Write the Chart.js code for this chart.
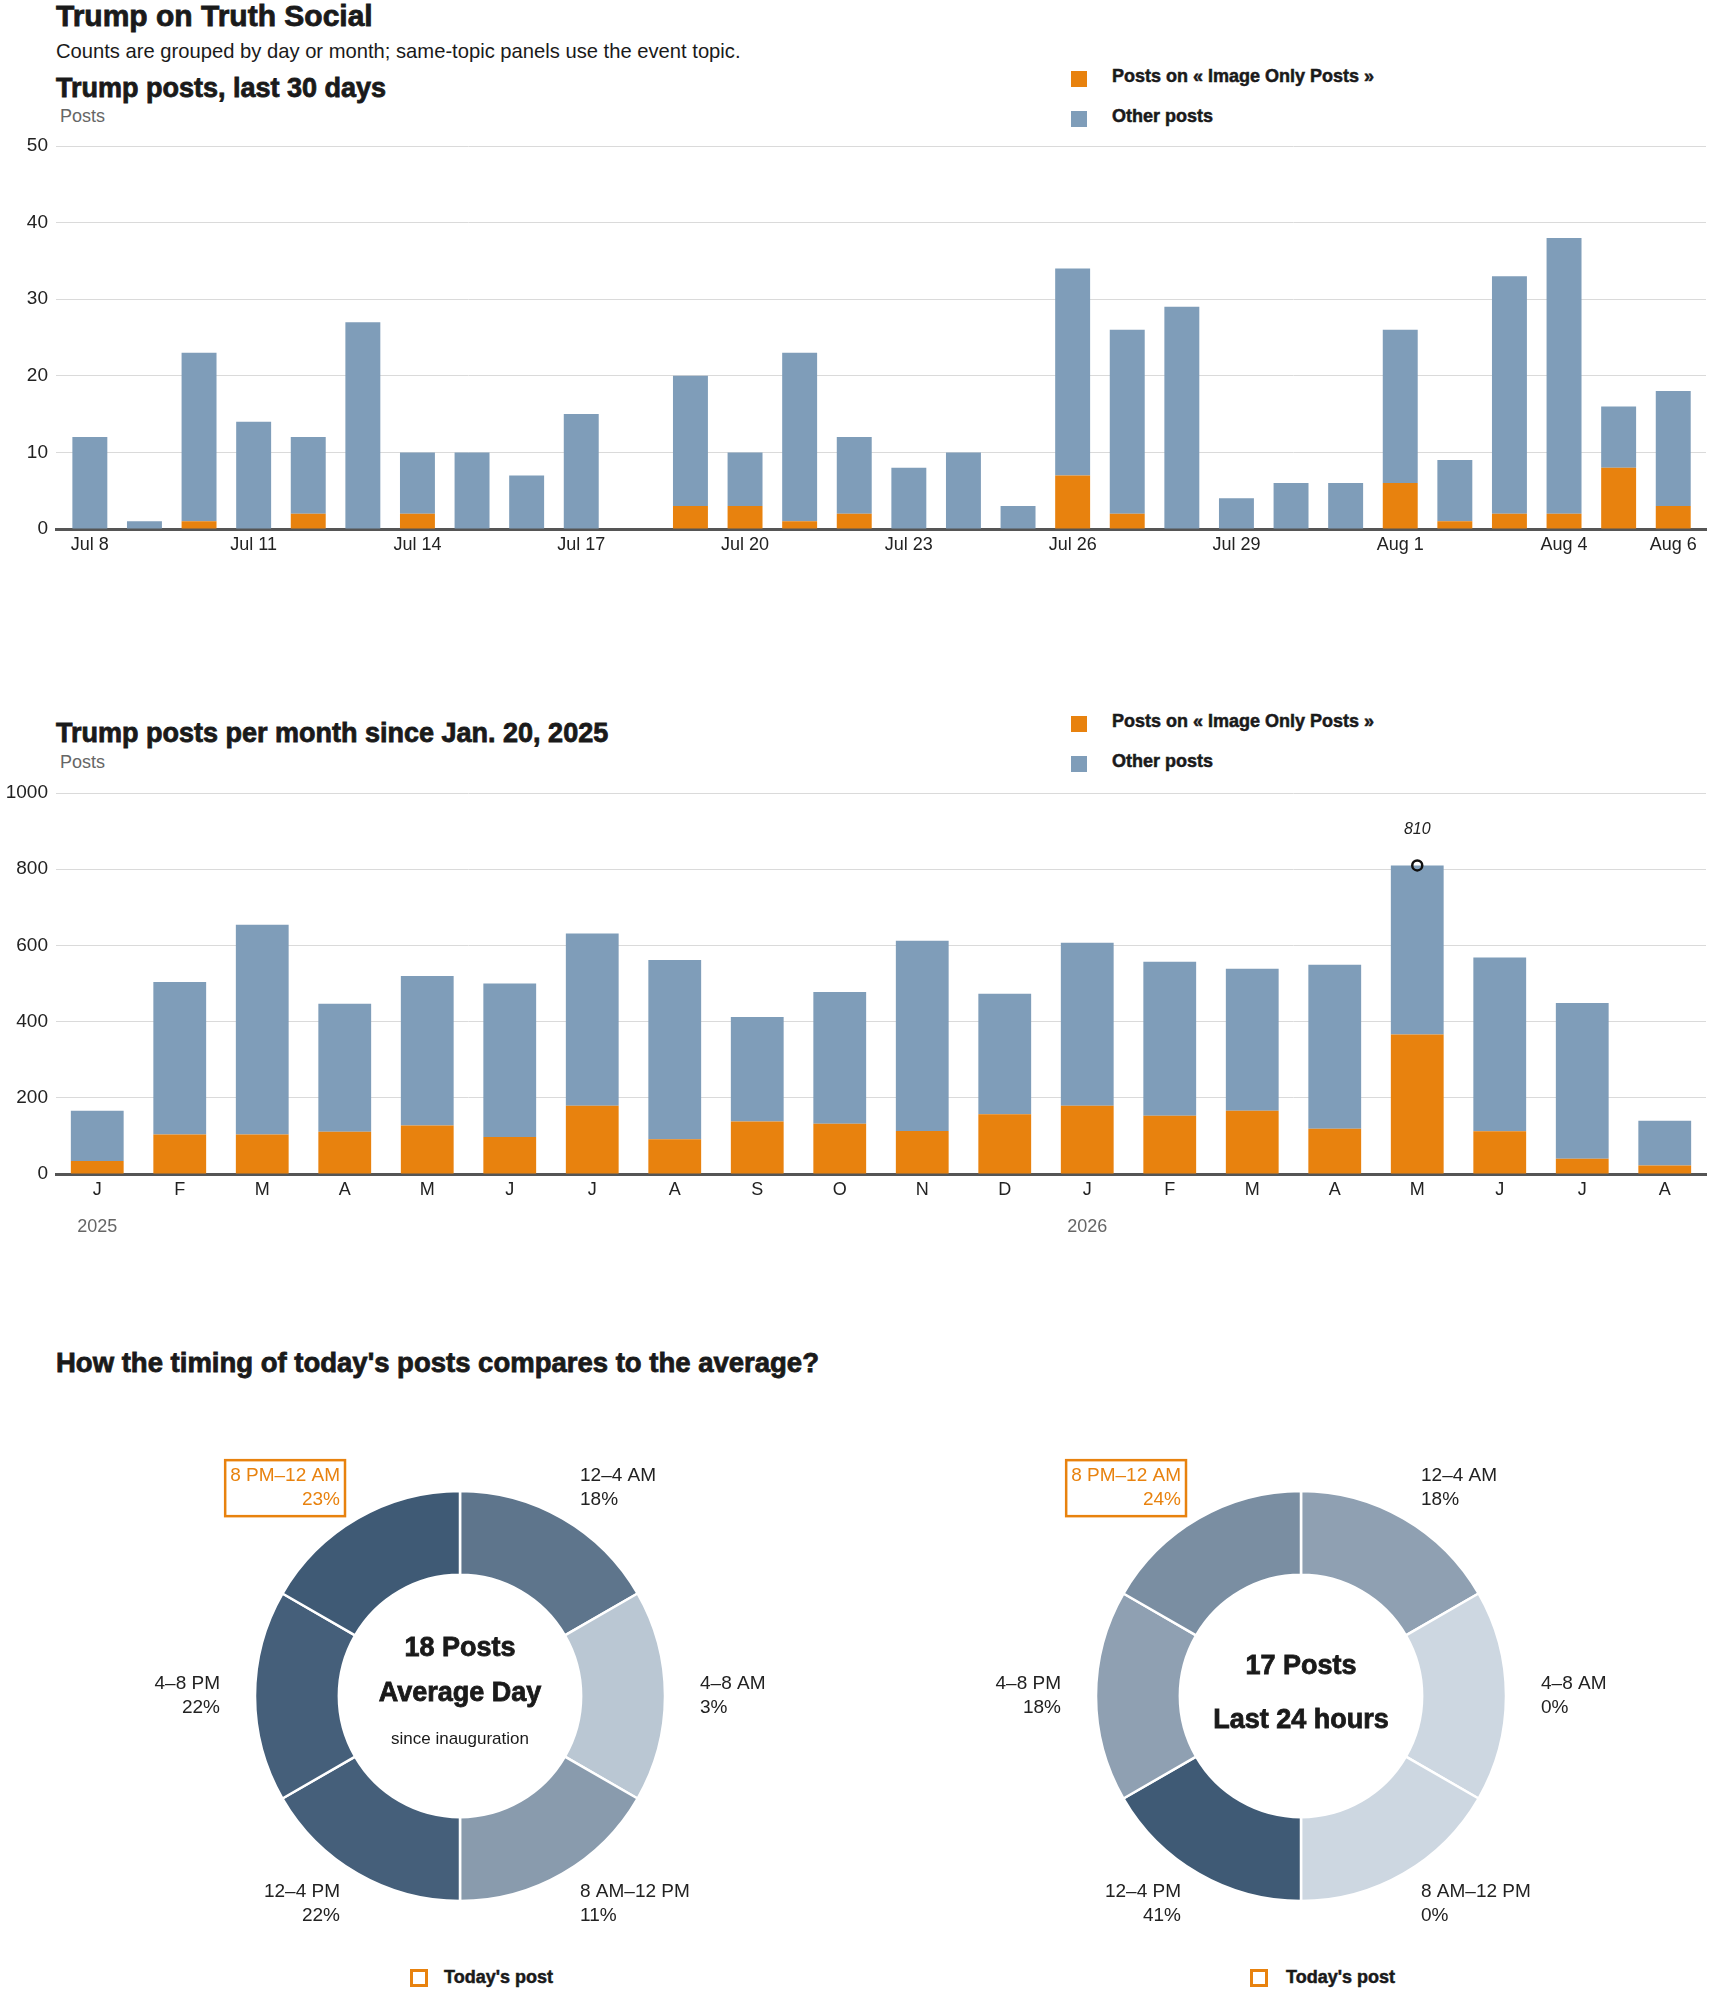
<!DOCTYPE html>
<html>
<head>
<meta charset="utf-8">
<script src="https://cdn.jsdelivr.net/npm/chart.js@4.4.1/dist/chart.umd.min.js"></script>
<style>
  body { margin: 0; background: #fff; }
  #page { position: relative; width: 1710px; height: 1993px; overflow: hidden;
          font-family: 'Liberation Sans', Arial, sans-serif; color: #1a1a1a; }
  .t { position: absolute; white-space: nowrap; line-height: 1; }
  .b { font-weight: 700; -webkit-text-stroke: 0.5px #1a1a1a; }
  .h { font-weight: 700; -webkit-text-stroke: 0.8px #1a1a1a; }
  .sq { position: absolute; width: 16px; height: 16px; }
  .osq { position: absolute; width: 18px; height: 18px; box-sizing: border-box; border: 3px solid #e8820e; }
  canvas { position: absolute; }
</style>
</head>
<body>
<div id="page">
  <div class="t h" style="left:56px;top:1px;font-size:30px;">Trump on Truth Social</div>
  <div class="t" style="left:56px;top:41px;font-size:20.2px;">Counts are grouped by day or month; same-topic panels use the event topic.</div>

  <div class="t h" style="left:56px;top:75px;font-size:27px;">Trump posts, last 30 days</div>
  <div class="t" style="left:60px;top:107px;font-size:18px;color:#666;">Posts</div>
  <div class="sq" style="left:1071px;top:71px;background:#e8820e;"></div>
  <div class="t b" style="left:1112px;top:67px;font-size:18px;">Posts on « Image Only Posts »</div>
  <div class="sq" style="left:1071px;top:111px;background:#7f9db9;"></div>
  <div class="t b" style="left:1112px;top:107px;font-size:18px;">Other posts</div>
  <canvas id="daily" width="1710" height="439" style="left:0;top:130px;"></canvas>

  <div class="t h" style="left:56px;top:720px;font-size:27px;">Trump posts per month since Jan. 20, 2025</div>
  <div class="t" style="left:60px;top:753px;font-size:18px;color:#666;">Posts</div>
  <div class="sq" style="left:1071px;top:716px;background:#e8820e;"></div>
  <div class="t b" style="left:1112px;top:712px;font-size:18px;">Posts on « Image Only Posts »</div>
  <div class="sq" style="left:1071px;top:756px;background:#7f9db9;"></div>
  <div class="t b" style="left:1112px;top:752px;font-size:18px;">Other posts</div>
  <canvas id="monthly" width="1710" height="469" style="left:0;top:780px;"></canvas>

  <div class="t h" style="left:56px;top:1349px;font-size:27.5px;">How the timing of today's posts compares to the average?</div>

  <canvas id="donutAvg" width="760" height="520" style="left:80px;top:1436px;"></canvas>
  <div class="t h" style="left:310px;width:300px;text-align:center;top:1634px;font-size:27px;">18 Posts</div>
  <div class="t h" style="left:310px;width:300px;text-align:center;top:1679px;font-size:27px;">Average Day</div>
  <div class="t" style="left:310px;width:300px;text-align:center;top:1730px;font-size:17px;">since inauguration</div>
  <div class="osq" style="left:410px;top:1969px;"></div>
  <div class="t b" style="left:444px;top:1968px;font-size:18px;">Today's post</div>

  <canvas id="donutToday" width="760" height="520" style="left:921px;top:1436px;"></canvas>
  <div class="t h" style="left:1151px;width:300px;text-align:center;top:1652px;font-size:27px;">17 Posts</div>
  <div class="t h" style="left:1151px;width:300px;text-align:center;top:1706px;font-size:27px;">Last 24 hours</div>
  <div class="osq" style="left:1250px;top:1969px;"></div>
  <div class="t b" style="left:1286px;top:1968px;font-size:18px;">Today's post</div>
</div>

<script>
// ---------------- DATA ----------------
const dayLabels = ['Jul 8','Jul 9','Jul 10','Jul 11','Jul 12','Jul 13','Jul 14','Jul 15','Jul 16','Jul 17',
  'Jul 18','Jul 19','Jul 20','Jul 21','Jul 22','Jul 23','Jul 24','Jul 25','Jul 26','Jul 27',
  'Jul 28','Jul 29','Jul 30','Jul 31','Aug 1','Aug 2','Aug 3','Aug 4','Aug 5','Aug 6'];
const dayTickLabels = ['Jul 8','Jul 11','Jul 14','Jul 17','Jul 20','Jul 23','Jul 26','Jul 29','Aug 1','Aug 4','Aug 6'];
const dayTopicPosts = [0,0,1,0,2,0,2,0,0,0, 0,3,3,1,2,0,0,0,7,2, 0,0,0,0,6,1,2,2,8,3];
const dayOtherPosts = [12,1,22,14,10,27,8,10,7,15, 0,17,7,22,10,8,10,3,27,24, 29,4,6,6,20,8,31,36,8,15];

const monthLabels = ['J','F','M','A','M','J','J','A','S','O','N','D','J','F','M','A','M','J','J','A'];
const yearLabels = ['2025','2026'];
const yearStartIndex = [0, 12];
const monthTopicPosts = [34,104,104,111,127,97,179,91,138,132,113,157,179,153,166,119,366,112,40,22];
const monthOtherPosts = [132,400,550,336,393,403,452,471,274,346,499,316,428,404,373,430,444,456,409,118];

const timeBuckets = ['12–4 AM','4–8 AM','8 AM–12 PM','12–4 PM','4–8 PM','8 PM–12 AM'];
const avgDayShare = [18,3,11,22,22,23];
const last24Share = [18,0,0,41,18,24];
const currentBucket = '8 PM–12 AM';

// ---------------- STYLE ----------------
const ORANGE = '#e8820e';
const BLUE = '#7f9db9';
const FONT = "'Liberation Sans', Arial, sans-serif";
Chart.defaults.font.family = FONT;
Chart.defaults.color = '#222';
Chart.defaults.animation = false;

const gridStyle = { color: '#dadada', lineWidth: 1, drawTicks: false };
const axisBorder = { display: true, color: '#555', width: 3 };
const noPad = (s) => { s.paddingTop = 0; s.paddingBottom = 0; s.paddingLeft = 0; s.paddingRight = 0; };

// ---------------- DAILY CHART ----------------
new Chart(document.getElementById('daily'), {
  type: 'bar',
  data: {
    datasets: [
      { label: 'Posts on « Image Only Posts »', data: dayTopicPosts.map((v, i) => ({ x: i, y: v })),
        backgroundColor: ORANGE, categoryPercentage: 0.8, barPercentage: 0.8 },
      { label: 'Other posts', data: dayOtherPosts.map((v, i) => ({ x: i, y: v })),
        backgroundColor: BLUE, categoryPercentage: 0.8, barPercentage: 0.8 }
    ]
  },
  options: {
    responsive: false,
    layout: { padding: { top: 16, right: 4, left: 0, bottom: 0 } },
    plugins: { legend: { display: false }, tooltip: { enabled: false } },
    scales: {
      x: {
        type: 'linear', stacked: true, offset: false, min: -0.62, max: 29.6, z: 1,
        grid: { display: false }, border: axisBorder,
        afterBuildTicks: (s) => { s.ticks = dayTickLabels.map(l => ({ value: dayLabels.indexOf(l) })); },
        afterFit: (s) => { s.height = 40; noPad(s); },
        ticks: { padding: -3, font: { size: 18 }, color: '#222', maxRotation: 0, autoSkip: false,
                 callback: (v) => dayLabels[v] }
      },
      y: {
        stacked: true, min: 0, max: 50,
        grid: gridStyle, border: { display: false },
        afterFit: (s) => { s.width = 56; noPad(s); },
        ticks: { stepSize: 10, padding: 8, font: { size: 19 }, color: '#222', callback: (v) => String(v) }
      }
    }
  }
});

// ---------------- MONTHLY CHART ----------------
const monthlyExtras = {
  id: 'monthlyExtras',
  afterDatasetsDraw(chart) {
    const { ctx, scales } = chart;
    const totals = monthTopicPosts.map((v, i) => v + monthOtherPosts[i]);
    const peak = totals.indexOf(Math.max(...totals));
    const x = scales.x.getPixelForValue(peak);
    const y = scales.y.getPixelForValue(totals[peak]);
    ctx.save();
    ctx.beginPath();
    ctx.arc(x, y, 5, 0, Math.PI * 2);
    ctx.lineWidth = 2.5;
    ctx.strokeStyle = '#111';
    ctx.stroke();
    ctx.fillStyle = '#222';
    ctx.font = 'italic 16px ' + FONT;
    ctx.textAlign = 'center';
    ctx.textBaseline = 'middle';
    ctx.fillText(String(totals[peak]), x, y - 36);
    ctx.restore();
  },
  afterDraw(chart) {
    const { ctx, scales, chartArea } = chart;
    ctx.save();
    ctx.fillStyle = '#666';
    ctx.font = '18px ' + FONT;
    ctx.textAlign = 'center';
    ctx.textBaseline = 'middle';
    yearLabels.forEach((yl, k) => {
      ctx.fillText(yl, scales.x.getPixelForValue(yearStartIndex[k]), chartArea.bottom + 53);
    });
    ctx.restore();
  }
};

new Chart(document.getElementById('monthly'), {
  type: 'bar',
  data: {
    labels: monthLabels,
    datasets: [
      { label: 'Posts on « Image Only Posts »', data: monthTopicPosts, backgroundColor: ORANGE,
        categoryPercentage: 0.8, barPercentage: 0.8 },
      { label: 'Other posts', data: monthOtherPosts, backgroundColor: BLUE,
        categoryPercentage: 0.8, barPercentage: 0.8 }
    ]
  },
  options: {
    responsive: false,
    layout: { padding: { top: 13, right: 4, left: 0, bottom: 0 } },
    plugins: { legend: { display: false }, tooltip: { enabled: false } },
    scales: {
      x: {
        stacked: true, offset: true, z: 1,
        grid: { display: false }, border: axisBorder,
        afterFit: (s) => { s.height = 75; noPad(s); },
        ticks: { padding: -3, font: { size: 18 }, color: '#222', maxRotation: 0, autoSkip: false }
      },
      y: {
        stacked: true, min: 0, max: 1000,
        grid: gridStyle, border: { display: false },
        afterFit: (s) => { s.width = 56; noPad(s); },
        ticks: { stepSize: 200, padding: 8, font: { size: 19 }, color: '#222', callback: (v) => String(v) }
      }
    }
  },
  plugins: [monthlyExtras]
});

// ---------------- DONUTS ----------------
function shade(v, max) {
  const light = [205, 215, 225], dark = [63, 90, 117];
  const t = max ? v / max : 0;
  const c = light.map((l, i) => Math.round(l + (dark[i] - l) * t));
  return `rgb(${c[0]},${c[1]},${c[2]})`;
}

const sliceLabels = {
  id: 'sliceLabels',
  afterDatasetsDraw(chart) {
    const { ctx } = chart;
    const shares = chart.data.datasets[0].shares;
    const meta = chart.getDatasetMeta(0);
    ctx.save();
    ctx.font = '19px ' + FONT;
    ctx.textBaseline = 'middle';
    meta.data.forEach((arc, i) => {
      const p = arc.getProps(['x', 'y', 'startAngle', 'endAngle', 'outerRadius'], true);
      const mid = (p.startAngle + p.endAngle) / 2;
      const r = p.outerRadius + 35;
      const ax = p.x + Math.cos(mid) * r;
      const ay = p.y + Math.sin(mid) * r;
      const right = Math.cos(mid) > 0.01;
      const l1 = timeBuckets[i], l2 = shares[i] + '%';
      const hi = timeBuckets[i] === currentBucket;
      ctx.textAlign = right ? 'left' : 'right';
      ctx.fillStyle = hi ? ORANGE : '#222';
      ctx.fillText(l1, ax, ay - 12);
      ctx.fillText(l2, ax, ay + 12);
      if (hi) {
        const w = Math.max(ctx.measureText(l1).width, ctx.measureText(l2).width);
        const x0 = right ? ax - 5 : ax - w - 5;
        ctx.strokeStyle = ORANGE;
        ctx.lineWidth = 2.5;
        ctx.strokeRect(x0, ay - 28, w + 10, 56);
      }
    });
    ctx.restore();
  }
};

function makeDonut(id, shares) {
  const max = Math.max(...shares);
  new Chart(document.getElementById(id), {
    type: 'doughnut',
    data: {
      labels: timeBuckets,
      datasets: [{
        data: timeBuckets.map(() => 1),
        shares: shares,
        backgroundColor: shares.map(v => shade(v, max)),
        borderColor: '#fff',
        borderWidth: 2.5
      }]
    },
    options: {
      responsive: false,
      radius: 205,
      cutout: 121,
      layout: { padding: { top: 54, bottom: 54, left: 174, right: 174 } },
      plugins: { legend: { display: false }, tooltip: { enabled: false } }
    },
    plugins: [sliceLabels]
  });
}
makeDonut('donutAvg', avgDayShare);
makeDonut('donutToday', last24Share);
</script>
</body>
</html>
